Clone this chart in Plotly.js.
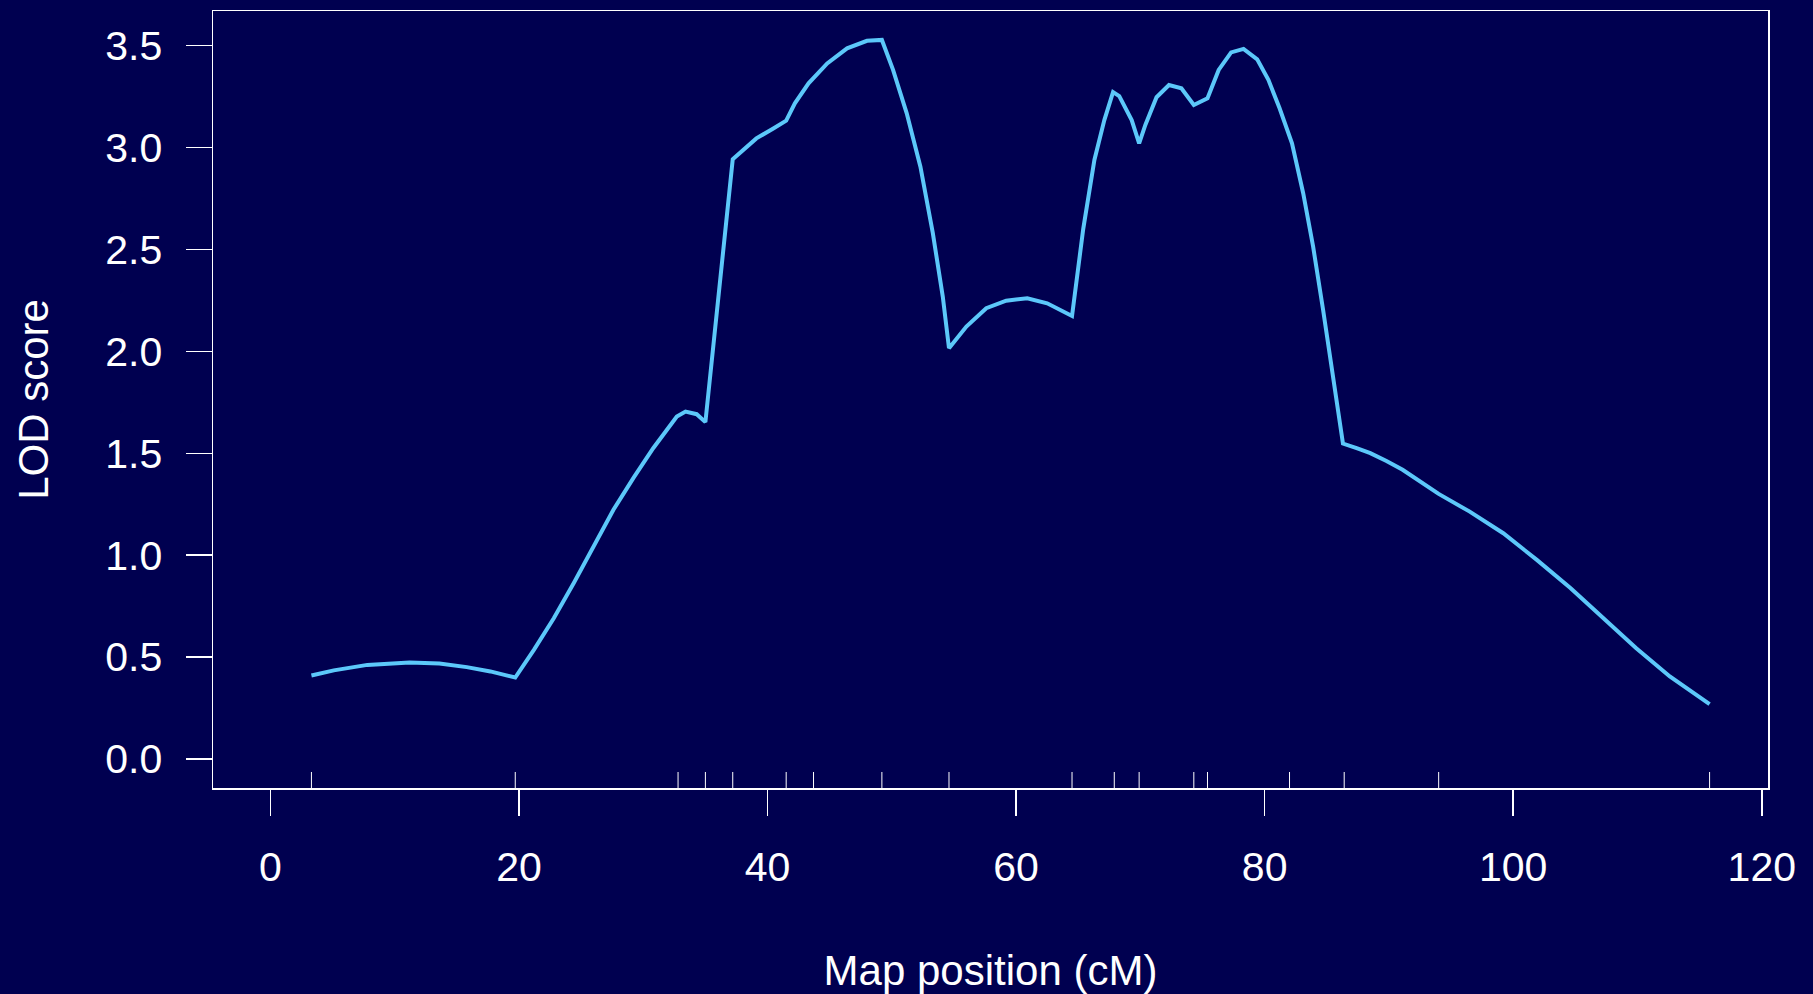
<!DOCTYPE html>
<html>
<head>
<meta charset="utf-8">
<script src="https://cdn.plot.ly/plotly-3.0.1.min.js"></script>
<style>
  html, body { margin: 0; padding: 0; background: #000050; }
  #chart { width: 1813px; height: 994px; }
</style>
</head>
<body>
<div id="chart"></div>
<script>
// Genome scan along one chromosome: LOD score vs map position
const mapPosition = [3.3, 5.1, 7.8, 11.2, 13.6, 15.8, 17.7, 19.7, 21.2, 22.8, 24.4, 26.0, 27.6, 29.2,
  30.8, 32.7, 33.4, 34.3, 35.0, 37.2, 39.1, 40.5, 41.5, 42.2, 43.3, 44.8, 46.4, 48.0, 49.2, 50.1,
  51.2, 52.3, 53.3, 54.1, 54.6, 56.0, 57.6, 59.2, 60.9, 62.5, 64.5, 65.4, 66.3, 67.1, 67.8, 68.3,
  69.3, 69.9, 70.4, 71.3, 72.3, 73.3, 74.3, 75.4, 76.3, 77.3, 78.3, 79.4, 80.3, 81.2, 82.2, 83.1,
  83.9, 84.7, 85.5, 86.3, 87.4, 88.5, 89.8, 91.1, 94.0, 96.5, 99.2, 101.9, 104.6, 107.2, 109.9,
  112.6, 115.8];

const lodScore = [0.41, 0.435, 0.462, 0.474, 0.469, 0.451, 0.430, 0.400, 0.536, 0.691, 0.863, 1.043,
  1.223, 1.378, 1.525, 1.680, 1.705, 1.692, 1.653, 2.943, 3.045, 3.095, 3.132, 3.217, 3.315, 3.413,
  3.487, 3.524, 3.528, 3.381, 3.168, 2.906, 2.580, 2.269, 2.016, 2.122, 2.212, 2.249, 2.261, 2.236,
  2.174, 2.600, 2.939, 3.135, 3.272, 3.252, 3.135, 3.021, 3.111, 3.247, 3.307, 3.291, 3.209, 3.242,
  3.381, 3.467, 3.484, 3.433, 3.332, 3.193, 3.021, 2.776, 2.514, 2.204, 1.876, 1.548, 1.525, 1.501,
  1.462, 1.419, 1.301, 1.214, 1.108, 0.977, 0.839, 0.691, 0.544, 0.405, 0.270];

// Genetic marker positions (rug along the bottom of the panel)
const markerPositions = [3.3, 19.7, 32.8, 35.0, 37.2, 41.5, 43.7, 49.2, 54.6, 64.5, 67.9, 69.9,
  74.3, 75.4, 82.0, 86.4, 94.0, 115.8];

const xTicks = [0, 20, 40, 60, 80, 100, 120];
const yTicks = [0, 0.5, 1, 1.5, 2, 2.5, 3, 3.5];
const yTickText = ['0.0', '0.5', '1.0', '1.5', '2.0', '2.5', '3.0', '3.5'];

const bg = '#000050';
const fg = '#ffffff';
const fontFamily = '"Liberation Sans", Arial, Helvetica, sans-serif';

const trace = {
  x: mapPosition,
  y: lodScore,
  type: 'scatter',
  mode: 'lines',
  line: { color: '#5cc8fa', width: 4, shape: 'linear' },
  hoverinfo: 'x+y'
};

const rugShapes = markerPositions.map(p => ({
  type: 'line',
  xref: 'x', yref: 'paper',
  x0: p, x1: p, y0: 0, y1: 0.0206,
  line: { color: fg, width: 1 }
}));

const layout = {
  width: 1813,
  height: 994,
  paper_bgcolor: bg,
  plot_bgcolor: bg,
  showlegend: false,
  margin: { l: 213, r: 45, t: 11, b: 206, pad: 0 },
  font: { family: fontFamily, color: fg, size: 41 },
  xaxis: {
    range: [-4.62, 120.5],
    tickvals: xTicks,
    ticktext: xTicks.map(String),
    ticks: 'outside',
    ticklen: 26,
    tickwidth: 1.5,
    tickcolor: fg,
    ticklabelstandoff: 16,
    tickfont: { family: fontFamily, size: 41, color: fg },
    showline: true,
    linecolor: fg,
    linewidth: 1.5,
    mirror: true,
    showgrid: false,
    zeroline: false,
    automargin: false,
    title: { text: 'Map position (cM)', font: { family: fontFamily, size: 42, color: fg }, standoff: 67 }
  },
  yaxis: {
    range: [-0.142, 3.67],
    tickvals: yTicks,
    ticktext: yTickText,
    ticks: 'outside',
    ticklen: 26,
    tickwidth: 1.5,
    tickcolor: fg,
    ticklabelstandoff: 15,
    tickfont: { family: fontFamily, size: 41, color: fg },
    showline: true,
    linecolor: fg,
    linewidth: 1.5,
    mirror: true,
    showgrid: false,
    zeroline: false,
    automargin: false,
    title: { text: 'LOD score', font: { family: fontFamily, size: 42, color: fg }, standoff: 43 }
  },
  shapes: rugShapes
};

Plotly.newPlot('chart', [trace], layout, { displayModeBar: false, staticPlot: true });
</script>
</body>
</html>
